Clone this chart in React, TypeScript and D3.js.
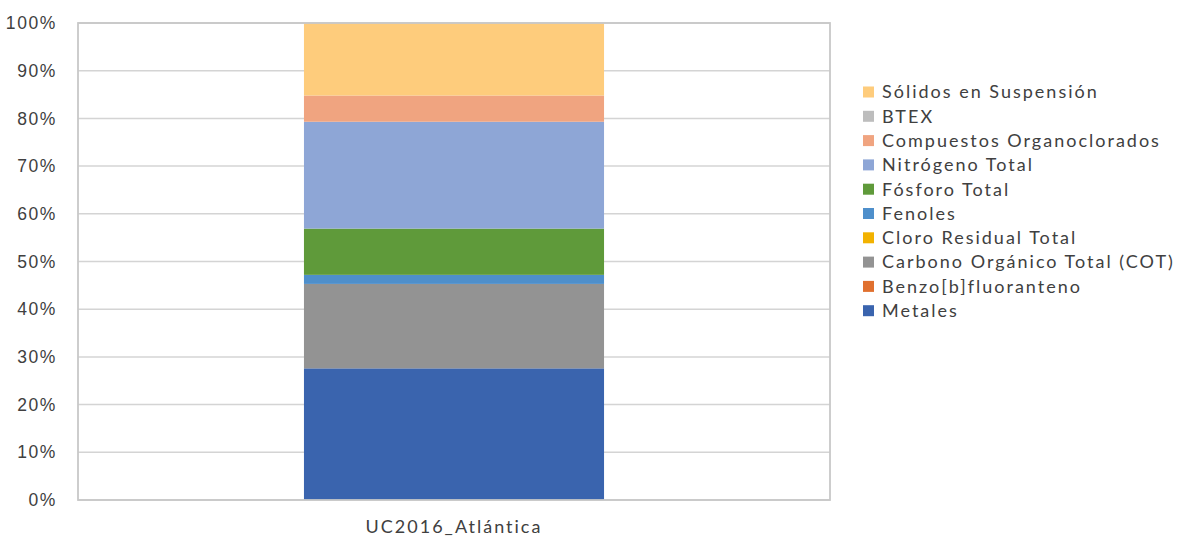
import React from "react";
import * as d3 from "d3";

// Stack order from bottom to top
const seriesNames = [
  "Metales",
  "Benzo[b]fluoranteno",
  "Carbono Orgánico Total (COT)",
  "Cloro Residual Total",
  "Fenoles",
  "Fósforo Total",
  "Nitrógeno Total",
  "Compuestos Organoclorados",
  "BTEX",
  "Sólidos en Suspensión",
];
const seriesValues = [27.6, 0, 17.7, 0, 1.9, 9.7, 22.4, 5.5, 0, 15.2];
const seriesColors = [
  "#3A64AE",
  "#E0702F",
  "#939393",
  "#F2B200",
  "#4E8FCB",
  "#5F9A3A",
  "#8EA6D6",
  "#F0A480",
  "#BDBDBD",
  "#FECC7C",
];
const categories = ["UC2016_Atlántica"];
const yTicks = [0, 10, 20, 30, 40, 50, 60, 70, 80, 90, 100];

const W = 1182;
const H = 542;
const plot = { left: 78, right: 830, top: 23, bottom: 500 };
const labelFont = "Lato, 'Open Sans', sans-serif";

export default function App() {
  const x = d3
    .scaleBand<string>()
    .domain(categories)
    .range([plot.left, plot.right])
    .paddingInner(0)
    .paddingOuter(0.753);
  const y = d3.scaleLinear().domain([0, 100]).range([plot.bottom, plot.top]);

  const row: Record<string, number | string> = { cat: categories[0] };
  seriesNames.forEach((n, i) => (row[n] = seriesValues[i]));
  const stacked = d3.stack<any>().keys(seriesNames)([row]);

  const legendOrder = seriesNames.map((_, i) => i).reverse();
  const legendX = 863;
  const legendY0 = 92;
  const legendStep = 24.3;

  return (
    <svg
      width={W}
      height={H}
      style={{ position: "absolute", left: 0, top: 0, background: "#fff" }}
    >
      {/* gridlines */}
      {yTicks.map((t) => (
        <line
          key={"g" + t}
          x1={plot.left}
          x2={plot.right}
          y1={y(t)}
          y2={y(t)}
          stroke="#d4d4d4"
          strokeWidth={1.5}
        />
      ))}
      {/* stacked bar */}
      {stacked.map((s, i) =>
        s.map((d, j) => (
          <rect
            key={seriesNames[i] + j}
            x={x(categories[j])}
            width={x.bandwidth()}
            y={y(d[1])}
            height={Math.max(0, y(d[0]) - y(d[1]))}
            fill={seriesColors[i]}
          />
        ))
      )}
      {/* plot frame */}
      <rect
        x={plot.left}
        y={plot.top}
        width={plot.right - plot.left}
        height={plot.bottom - plot.top}
        fill="none"
        stroke="#c8c8c8"
        strokeWidth={1.8}
      />
      {/* y tick labels */}
      {yTicks.map((t) => (
        <text
          key={"t" + t}
          x={57}
          y={y(t)}
          dy="0.35em"
          textAnchor="end"
          fontFamily="'Liberation Sans', Arial, sans-serif"
          fontSize={17.5}
          letterSpacing={1.6}
          fill="#404040"
        >
          {t}%
        </text>
      ))}
      {/* category label */}
      {categories.map((c) => (
        <text
          key={c}
          x={(x(c) as number) + x.bandwidth() / 2}
          y={527}
          dy="0.35em"
          textAnchor="middle"
          fontFamily={labelFont}
          fontSize={18}
          letterSpacing={2.0}
          fill="#404040"
        >
          {c}
        </text>
      ))}
      {/* legend */}
      {legendOrder.map((idx, k) => (
        <g
          key={"l" + idx}
          transform={`translate(${legendX},${legendY0 + k * legendStep})`}
        >
          <rect x={0} y={-5.5} width={11} height={11} fill={seriesColors[idx]} />
          <text
            x={19}
            y={0}
            dy="0.35em"
            fontFamily={labelFont}
            fontSize={18}
            letterSpacing={2.0}
            fill="#404040"
          >
            {seriesNames[idx]}
          </text>
        </g>
      ))}
    </svg>
  );
}
